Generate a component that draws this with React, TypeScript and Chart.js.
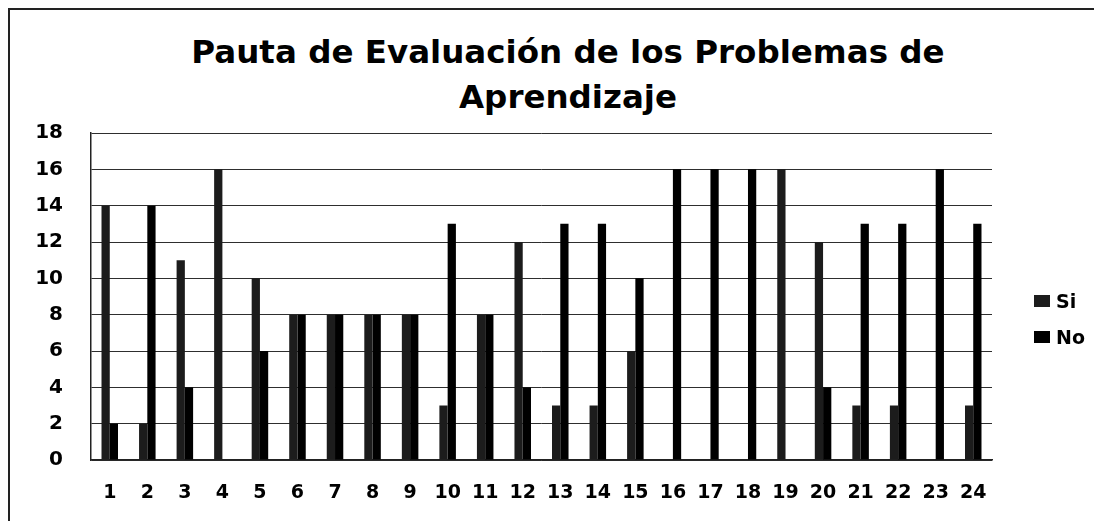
import React, { useEffect, useRef } from "react";
import { Chart, registerables } from "chart.js";

Chart.register(...registerables);

const categories = ["1","2","3","4","5","6","7","8","9","10","11","12","13","14","15","16","17","18","19","20","21","22","23","24"];
const siValues = [14, 2, 11, 16, 10, 8, 8, 8, 8, 3, 8, 12, 3, 3, 6, 0, 0, 0, 16, 12, 3, 3, 0, 3];
const noValues = [2, 14, 4, 0, 6, 8, 8, 8, 8, 13, 8, 4, 13, 13, 10, 16, 16, 16, 0, 4, 13, 13, 16, 13];
const titleLines = ["Pauta de Evaluación de los Problemas de", "Aprendizaje"];
const seriesNames = ["Si", "No"];
const seriesColors = ["#1c1c1c", "#000000"];

export default function App() {
  const canvasRef = useRef<HTMLCanvasElement | null>(null);

  useEffect(() => {
    if (!canvasRef.current) return;
    const chart = new Chart(canvasRef.current, {
      type: "bar",
      data: {
        labels: categories,
        datasets: [
          { label: seriesNames[0], data: siValues, backgroundColor: seriesColors[0], borderWidth: 0 },
          { label: seriesNames[1], data: noValues, backgroundColor: seriesColors[1], borderWidth: 0 },
        ],
      },
      options: {
        animation: false,
        responsive: true,
        maintainAspectRatio: false,
        datasets: { bar: { categoryPercentage: 0.44, barPercentage: 1 } },
        layout: { padding: { top: 0, left: 0, right: 110, bottom: 0 } },
        plugins: {
          title: { display: false },
          tooltip: { enabled: false },
          legend: { display: false },
        },
        scales: {
          x: {
            grid: { display: false, drawTicks: false },
            border: { display: true, color: "#222", width: 1.5 },
            afterFit: (scale: any) => {
              scale.height = 61;
            },
            ticks: {
              color: "#000",
              padding: 22,
              maxRotation: 0,
              autoSkip: false,
              font: { family: "DejaVu Sans", weight: "bold", size: 19 },
            },
          },
          y: {
            min: 0,
            max: 18,
            grid: { color: "#2e2e2e", lineWidth: 1, drawTicks: false },
            border: { display: true, color: "#222", width: 1.5 },
            afterFit: (scale: any) => {
              scale.width = 81;
            },
            ticks: {
              stepSize: 2,
              color: "#000",
              padding: 28,
              font: { family: "DejaVu Sans", weight: "bold", size: 20 },
            },
          },
        },
      },
    });
    return () => chart.destroy();
  }, []);

  return (
    <div
      style={{
        position: "relative",
        width: 1094,
        height: 513,
        borderTop: "2px solid #222",
        borderLeft: "2px solid #222",
        boxSizing: "border-box",
        background: "#fff",
        overflow: "hidden",
      }}
    >
      <div
        style={{
          fontFamily: "'DejaVu Sans', sans-serif",
          fontWeight: 700,
          fontSize: 32.5,
          lineHeight: "45px",
          textAlign: "center",
          paddingTop: 20,
          paddingLeft: 24,
          color: "#000",
          height: 90,
        }}
      >
        {titleLines.map((t, i) => (
          <div key={i}>{t}</div>
        ))}
      </div>
      <div style={{ position: "absolute", left: 0, right: 0, top: 83, bottom: 0 }}>
        <canvas ref={canvasRef} />
      </div>
      <div
        style={{
          position: "absolute",
          left: 1024,
          top: 279,
          fontFamily: "'DejaVu Sans', sans-serif",
          fontWeight: 700,
          fontSize: 19,
          color: "#000",
        }}
      >
        {seriesNames.map((n, i) => (
          <div key={n} style={{ display: "flex", alignItems: "center", height: 24, marginBottom: i === 0 ? 12 : 0 }}>
            <span style={{ display: "inline-block", width: 16, height: 12, background: seriesColors[i], marginRight: 6 }} />
            <span>{n}</span>
          </div>
        ))}
      </div>
    </div>
  );
}
